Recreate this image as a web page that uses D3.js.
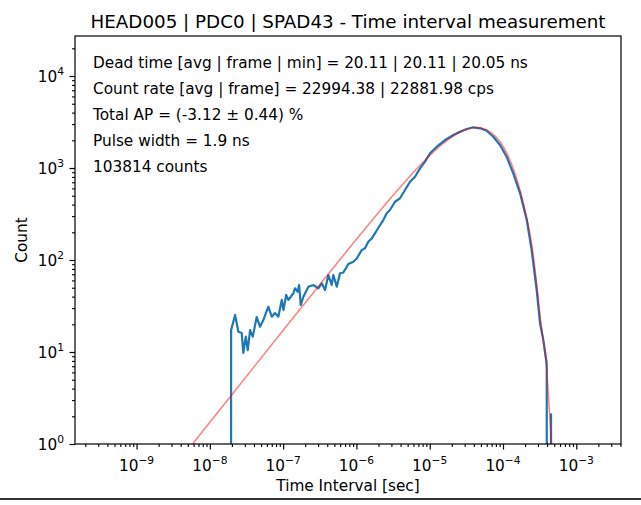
<!DOCTYPE html>
<html lang="en">
<head>
    <meta charset="UTF-8">
    <title>Time interval measurement</title>
    <script src="https://cdn.jsdelivr.net/npm/d3@7"></script>
    <style>
        body { margin:0; background:#fff; }
        text { font-family:"DejaVu Sans", sans-serif; fill:#000; }
        .tick line { stroke:#000; }
    </style>
</head>
<body>
<div class="app"></div>
<script>
    // histogram (seconds, counts)
    var blueTime = [1.90e-8, 1.95e-8, 2.21e-8, 2.45e-8, 2.72e-8, 2.86e-8, 3.09e-8, 3.29e-8, 3.54e-8, 3.85e-8,
        4.36e-8, 4.84e-8, 5.37e-8, 6.28e-8, 6.99e-8, 7.75e-8, 8.60e-8, 9.57e-8, 1.01e-7, 1.10e-7,
        1.18e-7, 1.38e-7, 1.45e-7, 1.58e-7, 1.65e-7, 1.74e-7, 1.89e-7, 2.21e-7, 2.58e-7, 3.02e-7,
        3.36e-7, 3.73e-7, 4.14e-7, 4.60e-7, 4.84e-7, 5.39e-7, 5.97e-7, 6.63e-7, 7.75e-7, 9.07e-7,
        1.01e-6, 1.18e-6, 1.31e-6, 1.45e-6, 1.62e-6, 1.79e-6, 2.10e-6, 2.33e-6, 2.59e-6, 2.87e-6,
        3.36e-6, 3.93e-6, 4.60e-6, 5.39e-6, 6.30e-6, 7.37e-6, 8.63e-6, 1.01e-5, 1.25e-5, 1.62e-5,
        2.10e-5, 2.59e-5, 3.20e-5, 3.93e-5, 4.86e-5, 5.99e-5, 7.37e-5, 9.10e-5, 1.12e-4, 1.38e-4,
        1.71e-4, 2.11e-4, 2.46e-4, 2.88e-4, 3.20e-4, 3.55e-4, 3.95e-4, 4.05e-4, 4.52e-4, 4.81e-4];
    var blueCount = [0, 17.3, 25.3, 16.6, 16.1, 9.8, 14.7, 10.5, 17.3, 14.7,
        24.0, 18.8, 22.3, 31.1, 24.2, 26.5, 24.2, 36.8, 28.6, 41.7,
        36.8, 43.5, 49.3, 45.2, 53.5, 32.4, 39.9, 51.3, 53.5, 49.3,
        55.8, 47.2, 68.7, 53.5, 68.7, 51.3, 71.7, 73.1, 90.5, 95.8,
        104, 128, 134, 158, 172, 195, 240, 272, 322, 350,
        430, 469, 577, 710, 804, 992, 1171, 1445, 1704, 2015,
        2284, 2481, 2654, 2770, 2701, 2544, 2189, 1778, 1327, 876,
        531, 272, 128, 47.2, 20.5, 13.5, 7.5, 0, 2.1, 0];

    // fitted curve (red)
    var fitTime = [3.2e-10, 1e-9, 1e-8, 1e-7, 5e-7, 1e-6, 2e-6, 3e-6, 5e-6, 1e-5, 1.5e-5, 2e-5, 3e-5, 4.35e-5,
        6e-5, 8e-5, 1e-4, 1.5e-4, 2e-4, 2.5e-4, 2.88e-4, 3.2e-4, 3.55e-4, 3.95e-4, 4.2e-4, 4.6e-4, 5.0e-4];
    var fitCount = [0.055, 0.172, 1.72, 17.2, 85, 168, 328, 481, 766, 1366, 1826, 2170, 2586, 2750,
        2595, 2184, 1724, 819, 346, 137, 55, 25, 13, 6.5, 3.0, 1.0, 0.3];

    var xTickExp = [-9, -8, -7, -6, -5, -4, -3];
    var yTickExp = [0, 1, 2, 3, 4];

    var title = 'HEAD005 | PDC0 | SPAD43 - Time interval measurement';
    var notes = ['Dead time [avg | frame | min] = 20.11 | 20.11 | 20.05 ns',
        'Count rate [avg | frame] = 22994.38 | 22881.98 cps',
        'Total AP = (-3.12 \u00b1 0.44) %',
        'Pulse width = 1.9 ns',
        '103814 counts'];

    var width = 641,
        height = 505,
        svg = d3.select('.app')
            .append('svg')
            .attr('width', width)
            .attr('height', height);

    var margin = {top:36, right:20, bottom:61, left:75},
        w = width - margin.left - margin.right,
        h = height - margin.top - margin.bottom,
        g = svg.append('g').attr('transform', 'translate(' + margin.left + ',' + margin.top + ')');

    var x = d3.scaleLog().domain([Math.pow(10, -9.84), Math.pow(10, -2.39)]).range([0, w]);
    var y = d3.scaleLog().domain([1, Math.pow(10, 4.435)]).range([h, 0]);

    // minor ticks
    var xMinor = [], yMinor = [];
    for (var e = -10; e <= -3; e++) for (var k = 2; k <= 9; k++) {
        var v = k * Math.pow(10, e);
        if (v > x.domain()[0] && v < x.domain()[1]) xMinor.push(v);
    }
    for (var e2 = 0; e2 <= 4; e2++) for (var k2 = 2; k2 <= 9; k2++) {
        var v2 = k2 * Math.pow(10, e2);
        if (v2 < y.domain()[1]) yMinor.push(v2);
    }
    var xMajor = xTickExp.map(function(d){ return Math.pow(10, d); });
    var yMajor = yTickExp.map(function(d){ return Math.pow(10, d); });

    g.append('g').attr('transform', 'translate(0,' + h + ')')
        .call(d3.axisBottom(x).tickValues(xMinor).tickSize(3).tickFormat(''))
        .call(function(a){ a.select('.domain').remove(); })
        .selectAll('line').attr('stroke-width', 1.1);
    g.append('g').attr('transform', 'translate(0,' + h + ')')
        .call(d3.axisBottom(x).tickValues(xMajor).tickSize(5.5).tickFormat(''))
        .call(function(a){ a.select('.domain').remove(); })
        .selectAll('line').attr('stroke-width', 1.2);
    g.append('g')
        .call(d3.axisLeft(y).tickValues(yMinor).tickSize(3).tickFormat(''))
        .call(function(a){ a.select('.domain').remove(); })
        .selectAll('line').attr('stroke-width', 1.1);
    g.append('g')
        .call(d3.axisLeft(y).tickValues(yMajor).tickSize(5.5).tickFormat(''))
        .call(function(a){ a.select('.domain').remove(); })
        .selectAll('line').attr('stroke-width', 1.2);

    // tick labels as 10^n
    function powLabel(sel, exp) {
        sel.append('tspan').attr('font-size', '15.3px').text('10');
        sel.append('tspan').attr('font-size', '10.7px').attr('dy', -7)
            .text(String(exp).replace('-', '\u2212'));
    }
    xTickExp.forEach(function(d){
        var t = g.append('text')
            .attr('x', x(Math.pow(10, d)))
            .attr('y', h + 26.5)
            .attr('text-anchor', 'middle');
        powLabel(t, d);
    });
    yTickExp.forEach(function(d){
        var t = g.append('text')
            .attr('x', -11)
            .attr('y', y(Math.pow(10, d)) + 5.5)
            .attr('text-anchor', 'end');
        powLabel(t, d);
    });

    // lines
    svg.append('defs').append('clipPath').attr('id', 'clip')
        .append('rect').attr('width', w).attr('height', h);

    var blueLine = d3.line()
        .x(function(d){ return x(d[0]); })
        .y(function(d){ return d[1] > 0 ? y(d[1]) : h + 2000; });
    g.append('path')
        .datum(d3.zip(blueTime, blueCount))
        .attr('clip-path', 'url(#clip)')
        .attr('fill', 'none')
        .attr('stroke', '#1f77b4')
        .attr('stroke-width', 2.2)
        .attr('stroke-linejoin', 'round')
        .attr('d', blueLine);

    var fitLine = d3.line()
        .curve(d3.curveMonotoneX)
        .x(function(d){ return x(d[0]); })
        .y(function(d){ return y(d[1]); });
    g.append('path')
        .datum(d3.zip(fitTime, fitCount))
        .attr('clip-path', 'url(#clip)')
        .attr('fill', 'none')
        .attr('stroke', 'red')
        .attr('stroke-opacity', 0.5)
        .attr('stroke-width', 1.5)
        .attr('d', fitLine);

    // frame
    g.append('rect')
        .attr('width', w).attr('height', h)
        .attr('fill', 'none').attr('stroke', '#000').attr('stroke-width', 1.2);

    // annotation
    g.selectAll('.note').data(notes).enter().append('text')
        .attr('class', 'note')
        .attr('x', 18)
        .attr('y', function(d, i){ return 32 + i * 25.9; })
        .attr('font-size', '15.3px')
        .text(function(d){ return d; });

    svg.append('text')
        .attr('x', margin.left + w / 2).attr('y', 28)
        .attr('text-anchor', 'middle')
        .attr('font-size', '18.3px')
        .text(title);

    svg.append('text')
        .attr('x', margin.left + w / 2).attr('y', 491)
        .attr('text-anchor', 'middle')
        .attr('font-size', '15.3px')
        .text('Time Interval [sec]');

    svg.append('text')
        .attr('transform', 'translate(27,' + (margin.top + h / 2) + ') rotate(-90)')
        .attr('text-anchor', 'middle')
        .attr('font-size', '15.3px')
        .text('Count');

    // cell border under the figure
    svg.append('line')
        .attr('x1', 0).attr('x2', width).attr('y1', 499).attr('y2', 499)
        .attr('stroke', '#333').attr('stroke-width', 2);
</script>
</body>
</html>
